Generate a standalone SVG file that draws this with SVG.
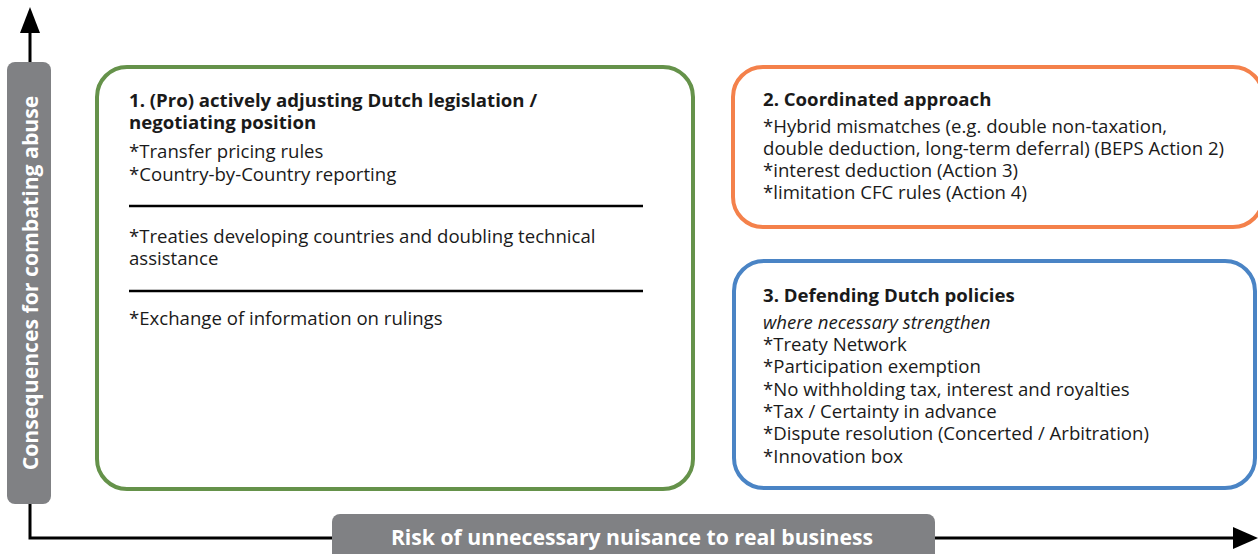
<svg xmlns="http://www.w3.org/2000/svg" width="1258" height="554" viewBox="0 0 1258 554">
<style>
.t{font-family:"Open Sans","Noto Sans","Liberation Sans",sans-serif;font-size:18.6px;fill:#1a1a1a}
.b{font-weight:bold}
.i{font-style:italic}
.lab{font-family:"Open Sans","Noto Sans","Liberation Sans",sans-serif;font-size:21.2px;font-weight:bold;fill:#ffffff}
.box{fill:#ffffff;stroke-width:4}
.axis{fill:none;stroke:#000;stroke-width:3}
.head{fill:#000}
.sep{stroke:#000;stroke-width:2.5}
</style>
<rect width="1258" height="554" fill="#ffffff"/>
<g id="connectors">
<path class="axis" d="M30,30 L30,538 L1240,538"/>
<polygon class="head" points="30,7 20,33 40,33"/>
<polygon class="head" points="1258,538 1233,527 1233,549"/>
</g>
<g id="y-axis-label">
<rect x="7" y="62" width="44" height="442" rx="8" fill="#808184"/>
<text class="lab" transform="translate(38,283) rotate(-90)" text-anchor="middle">Consequences for combating abuse</text>
</g>
<g id="x-axis-label">
<rect x="332" y="514" width="603" height="50" rx="8" fill="#808184"/>
<text class="lab" x="632" y="545" text-anchor="middle">Risk of unnecessary nuisance to real business</text>
</g>
<g id="node1">
<rect class="box" x="97" y="67" width="596" height="422" rx="30" stroke="#65924a"/>
<text class="t b" x="129" y="107">1. (Pro) actively adjusting Dutch legislation /</text>
<text class="t b" x="129" y="129">negotiating position</text>
<text class="t" x="129" y="158">*Transfer pricing rules</text>
<text class="t" x="129" y="181">*Country-by-Country reporting</text>
<line class="sep" x1="129" y1="206" x2="643" y2="206"/>
<text class="t" x="129" y="243">*Treaties developing countries and doubling technical</text>
<text class="t" x="129" y="265">assistance</text>
<line class="sep" x1="129" y1="291" x2="643" y2="291"/>
<text class="t" x="129" y="325">*Exchange of information on rulings</text>
</g>
<g id="node2">
<rect class="box" x="733" y="67" width="530" height="160" rx="30" stroke="#f4814b"/>
<text class="t b" x="763" y="106">2. Coordinated approach</text>
<text class="t" x="763" y="133">*Hybrid mismatches (e.g. double non-taxation,</text>
<text class="t" x="763" y="155">double deduction, long-term deferral) (BEPS Action 2)</text>
<text class="t" x="763" y="177">*interest deduction (Action 3)</text>
<text class="t" x="763" y="199">*limitation CFC rules (Action 4)</text>
</g>
<g id="node3">
<rect class="box" x="734" y="261" width="521" height="227" rx="30" stroke="#4a84c5"/>
<text class="t b" x="763" y="302">3. Defending Dutch policies</text>
<text class="t i" x="763" y="329">where necessary strengthen</text>
<text class="t" x="763" y="351">*Treaty Network</text>
<text class="t" x="763" y="373">*Participation exemption</text>
<text class="t" x="763" y="396">*No withholding tax, interest and royalties</text>
<text class="t" x="763" y="418">*Tax / Certainty in advance</text>
<text class="t" x="763" y="440">*Dispute resolution (Concerted / Arbitration)</text>
<text class="t" x="763" y="463">*Innovation box</text>
</g>
</svg>
